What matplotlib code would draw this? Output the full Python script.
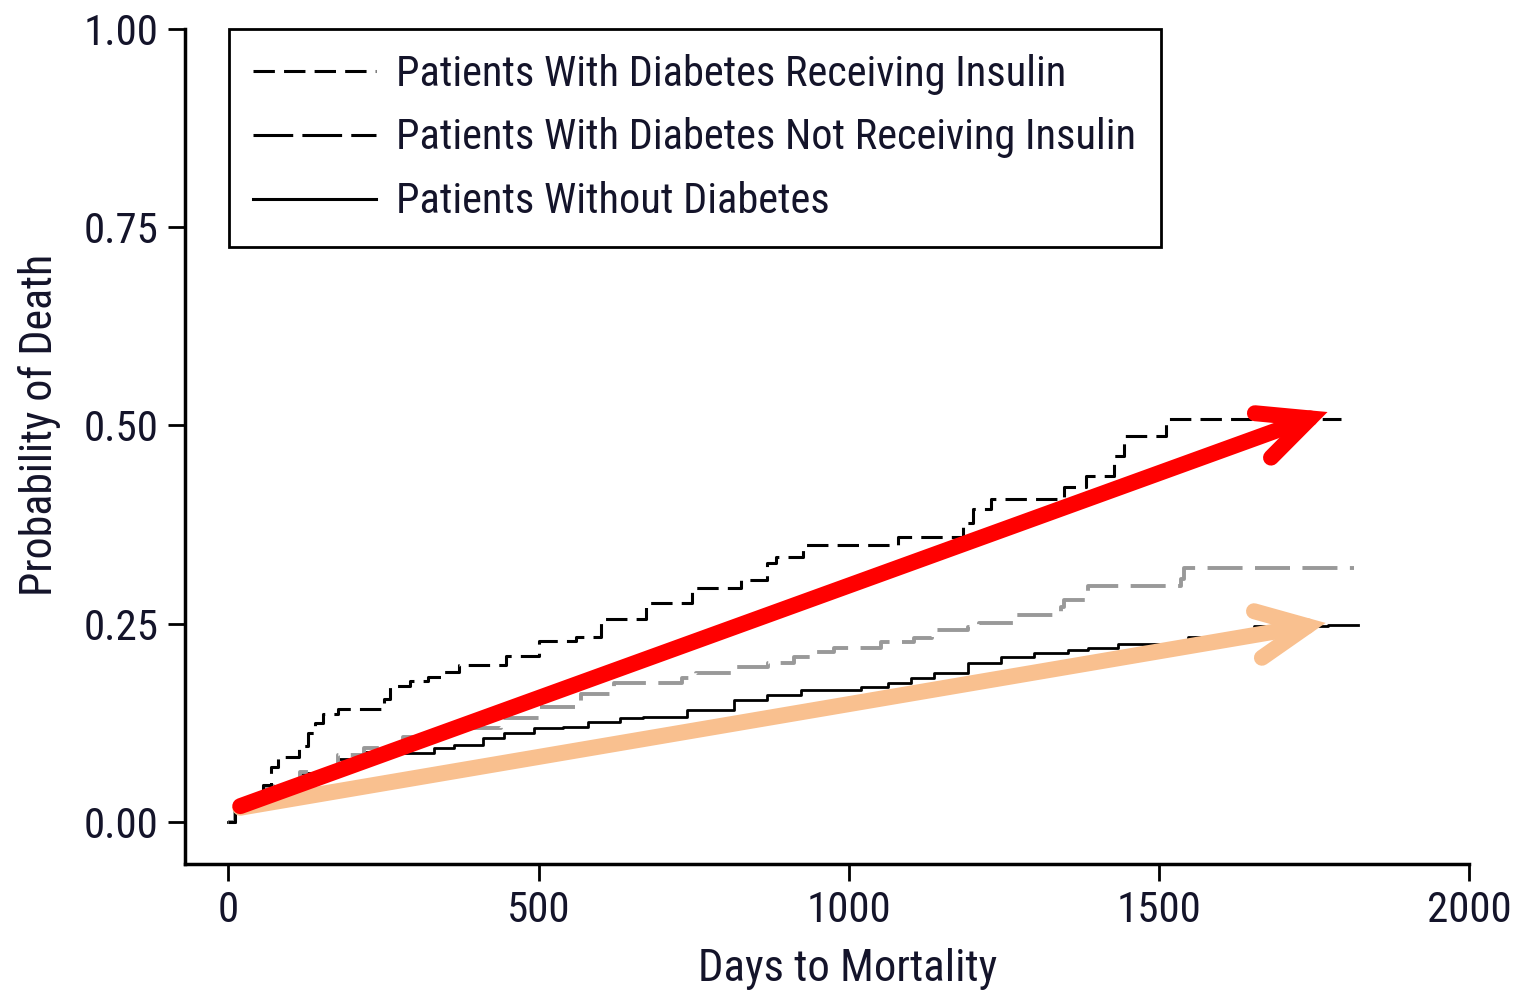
import matplotlib.pyplot as plt
from matplotlib import font_manager
from matplotlib.lines import Line2D
from matplotlib.patches import FancyArrowPatch

# pick a narrow sans face if one is installed
narrow = None
for f in font_manager.fontManager.ttflist:
    if f.name in ('Liberation Sans Narrow', 'Roboto Condensed', 'Open Sans Condensed'):
        narrow = f.name
        break
if narrow:
    plt.rcParams['font.family'] = [narrow, 'DejaVu Sans']
    scale = 1.0
else:
    plt.rcParams['font.family'] = ['DejaVu Sans']
    plt.rcParams['font.stretch'] = 'condensed'
    scale = 0.84

# cumulative probability of death, step curves (days, probability)
insulin_days = [0, 10, 25, 56, 68, 80, 114, 129, 140, 153, 176, 250, 261, 293, 321, 342,
                371, 447, 500, 560, 600, 673, 748, 826, 869, 882, 926, 1079, 1185, 1200,
                1229, 1347, 1382, 1427, 1444, 1511, 1794]
insulin_prob = [0.0, 0.015, 0.030, 0.047, 0.069, 0.082, 0.096, 0.112, 0.125, 0.136, 0.143,
                0.155, 0.171, 0.178, 0.183, 0.189, 0.198, 0.209, 0.228, 0.233, 0.256, 0.276,
                0.295, 0.305, 0.326, 0.334, 0.349, 0.360, 0.377, 0.395, 0.407, 0.422, 0.436,
                0.462, 0.487, 0.508, 0.508]

noninsulin_days = [0, 10, 25, 60, 116, 177, 218, 281, 350, 439, 503, 568, 621, 732, 753,
                   815, 870, 911, 944, 976, 1052, 1105, 1135, 1192, 1210, 1269, 1342, 1347,
                   1385, 1535, 1540, 1815]
noninsulin_prob = [0.0, 0.015, 0.028, 0.045, 0.063, 0.084, 0.093, 0.107, 0.118, 0.131, 0.145,
                   0.162, 0.175, 0.181, 0.188, 0.196, 0.200, 0.208, 0.214, 0.219, 0.227, 0.232,
                   0.242, 0.246, 0.251, 0.261, 0.271, 0.280, 0.298, 0.307, 0.320, 0.320]

nodiab_days = [0, 10, 25, 60, 116, 177, 218, 282, 331, 363, 411, 444, 492, 540, 579, 632,
               669, 740, 815, 869, 923, 1019, 1063, 1100, 1137, 1192, 1245, 1298, 1353, 1385,
               1434, 1547, 1653, 1773, 1821]
nodiab_prob = [0.0, 0.015, 0.028, 0.045, 0.062, 0.080, 0.088, 0.087, 0.093, 0.097, 0.106,
               0.112, 0.118, 0.120, 0.126, 0.131, 0.132, 0.141, 0.154, 0.160, 0.166, 0.170,
               0.175, 0.181, 0.188, 0.200, 0.208, 0.213, 0.217, 0.220, 0.225, 0.233, 0.247,
               0.248, 0.248]

labels = ['Patients With Diabetes Receiving Insulin',
          'Patients With Diabetes Not Receiving Insulin',
          'Patients Without Diabetes']

# trend arrows (start day, start prob) -> (end day, end prob)
red_arrow = [(19, 0.020), (1772, 0.517)]
orange_arrow = [(19, 0.018), (1769, 0.251)]

txt = '#14142a'
fs = 31 * scale

fig = plt.figure(figsize=(15.18, 9.96), dpi=100)
ax = fig.add_axes([0.1219, 0.1325, 0.8458, 0.8384])

ax.plot(nodiab_days, nodiab_prob, drawstyle='steps-post', color='black', lw=2.0)
ax.plot(noninsulin_days, noninsulin_prob, drawstyle='steps-post', color='#999999',
        lw=2.8, dashes=(9, 3.2))
ax.plot(insulin_days, insulin_prob, drawstyle='steps-post', color='black',
        lw=2.2, dashes=(7, 3))

for (p0, p1), col in [(orange_arrow, '#f9c08f'), (red_arrow, '#ff0000')]:
    arr = FancyArrowPatch(p0, p1, arrowstyle='->,head_length=36,head_width=17',
                          mutation_scale=1, lw=11.5, color=col, capstyle='round',
                          joinstyle='miter', shrinkA=0, shrinkB=0, zorder=5)
    ax.add_patch(arr)

ax.set_xlim(-70, 2000)
ax.set_ylim(-0.053, 1.0)
ax.set_xticks([0, 500, 1000, 1500, 2000])
ax.set_yticks([0, 0.25, 0.5, 0.75, 1.0])
ax.set_yticklabels(['0.00', '0.25', '0.50', '0.75', '1.00'])

for side in ['top', 'right']:
    ax.spines[side].set_visible(False)
for side in ['left', 'bottom']:
    ax.spines[side].set_linewidth(2.5)
ax.tick_params(length=12, width=2, labelsize=fs, pad=7, colors='black', labelcolor=txt)

ax.set_xlabel('Days to Mortality', fontsize=fs * 1.04, color=txt)
ax.set_ylabel('Probability of Death', fontsize=fs * 1.02, color=txt)
ax.xaxis.set_label_coords(0.516, -0.1)
ax.yaxis.set_label_coords(-0.097, 0.526)

handles = [Line2D([], [], color='black', lw=2.2, dashes=(7, 3)),
           Line2D([], [], color='black', lw=2.2, dashes=(13, 3)),
           Line2D([], [], color='black', lw=2.2)]
leg = ax.legend(handles, labels, loc='upper left', bbox_to_anchor=(0.034, 1.0),
                borderaxespad=0, fontsize=fs * 0.985, frameon=True, fancybox=False,
                handlelength=2.9, handletextpad=0.47, labelspacing=0.54,
                borderpad=0.58, labelcolor=txt)
leg.get_frame().set_edgecolor('black')
leg.get_frame().set_linewidth(2)
leg.get_frame().set_alpha(1)

fig.savefig('out.png', dpi=100)
